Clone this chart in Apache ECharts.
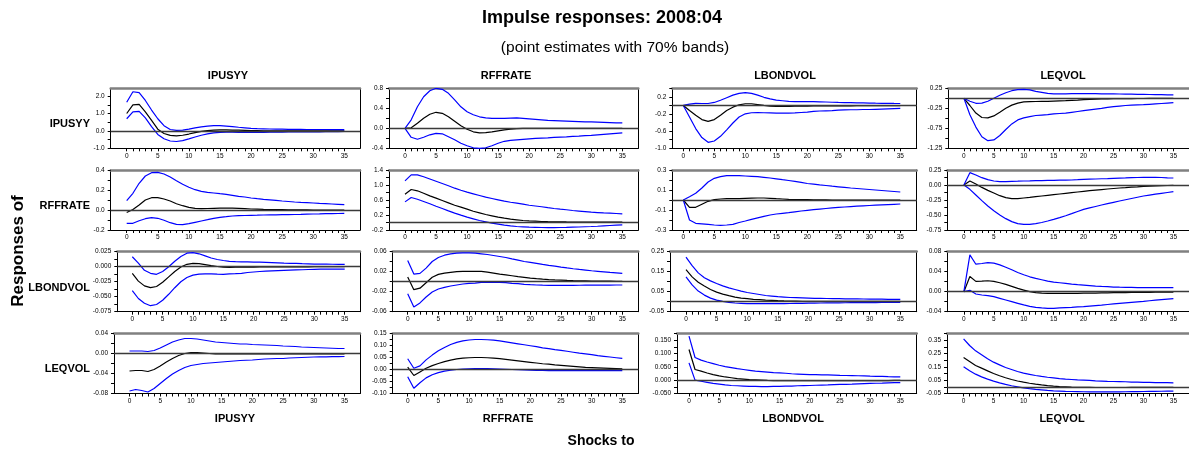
<!DOCTYPE html>
<html><head><meta charset="utf-8">
<script src="https://cdn.jsdelivr.net/npm/echarts@6.0.0/dist/echarts.min.js"></script>
<style>html,body{margin:0;padding:0;background:#fff}#c{width:1189px;height:452px}</style>
</head><body><div id="c"></div><script>
const VARS = ['IPUSYY', 'RFFRATE', 'LBONDVOL', 'LEQVOL'];
const HORIZON = [0,1,2,3,4,5,6,7,8,9,10,11,12,13,14,15,16,17,18,19,20,21,22,23,24,25,26,27,28,29,30,31,32,33,34,35];
const X_LABELS = [0,5,10,15,20,25,30,35];

// ---- Responses of IPUSYY ----
const IPUSYY_IPUSYY_MID = [1.00,1.50,1.52,1.10,0.60,0.10,-0.15,-0.26,-0.29,-0.25,-0.18,-0.10,
 -0.03,0.02,0.05,0.06,0.06,0.05,0.04,0.03,0.02,0.015,0.01,0.008,
 0.006,0.005,0.005,0.004,0.004,0.004,0.003,0.003,0.003,0.003,0.002,0.002];
const IPUSYY_IPUSYY_HI = [1.65,2.25,2.20,1.75,1.20,0.70,0.30,0.08,0.03,0.05,0.10,0.17,
 0.23,0.27,0.30,0.30,0.28,0.25,0.21,0.18,0.15,0.13,0.12,0.11,
 0.10,0.10,0.09,0.09,0.09,0.08,0.08,0.08,0.08,0.07,0.07,0.07];
const IPUSYY_IPUSYY_LO = [0.70,1.10,1.12,0.75,0.25,-0.20,-0.45,-0.58,-0.61,-0.56,-0.46,-0.35,
 -0.25,-0.17,-0.11,-0.08,-0.07,-0.07,-0.08,-0.08,-0.08,-0.08,-0.08,-0.07,
 -0.07,-0.07,-0.06,-0.06,-0.06,-0.05,-0.05,-0.05,-0.04,-0.04,-0.04,-0.03];

const IPUSYY_RFFRATE_MID = [0.00,0.01,0.10,0.20,0.28,0.32,0.30,0.23,0.14,0.05,-0.02,-0.07,
 -0.09,-0.085,-0.07,-0.05,-0.03,-0.015,-0.005,0.00,0.00,0.00,0.00,0.00,
 0.00,0.00,0.00,0.00,0.00,0.00,0.00,0.00,0.00,0.00,0.00,0.00];
const IPUSYY_RFFRATE_HI = [0.00,0.17,0.43,0.63,0.75,0.80,0.78,0.70,0.57,0.43,0.33,0.27,
 0.23,0.21,0.20,0.20,0.20,0.205,0.21,0.20,0.19,0.18,0.17,0.16,
 0.155,0.15,0.145,0.14,0.135,0.13,0.13,0.125,0.12,0.115,0.11,0.11];
const IPUSYY_RFFRATE_LO = [0.00,-0.18,-0.22,-0.18,-0.13,-0.10,-0.11,-0.17,-0.23,-0.30,-0.35,-0.39,
 -0.40,-0.39,-0.35,-0.30,-0.26,-0.24,-0.23,-0.22,-0.21,-0.20,-0.195,-0.19,
 -0.18,-0.175,-0.17,-0.16,-0.155,-0.145,-0.14,-0.13,-0.12,-0.11,-0.10,-0.09];

const IPUSYY_LBONDVOL_MID = [0.00,-0.12,-0.23,-0.33,-0.37,-0.33,-0.23,-0.12,-0.04,0.015,0.04,0.04,
 0.02,0.00,-0.015,-0.02,-0.02,-0.02,-0.015,-0.015,-0.015,-0.01,-0.01,-0.01,
 -0.01,-0.01,-0.008,-0.008,-0.007,-0.006,-0.005,-0.005,-0.004,-0.004,-0.003,-0.003];
const IPUSYY_LBONDVOL_HI = [0.00,0.03,0.05,0.045,0.045,0.07,0.12,0.18,0.24,0.28,0.30,0.28,
 0.24,0.19,0.155,0.125,0.11,0.095,0.09,0.09,0.09,0.09,0.085,0.08,
 0.075,0.07,0.068,0.065,0.062,0.06,0.055,0.052,0.05,0.048,0.046,0.045];
const IPUSYY_LBONDVOL_LO = [0.00,-0.27,-0.54,-0.75,-0.86,-0.83,-0.72,-0.57,-0.41,-0.27,-0.195,-0.17,
 -0.165,-0.17,-0.175,-0.18,-0.18,-0.18,-0.175,-0.165,-0.155,-0.14,-0.13,-0.125,
 -0.12,-0.11,-0.105,-0.10,-0.10,-0.095,-0.095,-0.09,-0.085,-0.08,-0.075,-0.07];

const IPUSYY_LEQVOL_MID = [0.00,-0.18,-0.37,-0.48,-0.49,-0.44,-0.35,-0.25,-0.17,-0.12,-0.09,-0.085,
 -0.08,-0.075,-0.075,-0.07,-0.065,-0.06,-0.05,-0.045,-0.035,-0.03,-0.02,-0.018,
 -0.015,-0.01,-0.01,-0.008,-0.006,-0.005,-0.005,-0.004,-0.003,-0.003,-0.002,-0.002];
const IPUSYY_LEQVOL_HI = [0.00,-0.075,-0.125,-0.12,-0.075,0.00,0.075,0.14,0.19,0.215,0.225,0.21,
 0.175,0.15,0.125,0.11,0.11,0.112,0.115,0.115,0.115,0.115,0.115,0.112,
 0.11,0.11,0.108,0.105,0.103,0.10,0.10,0.095,0.092,0.09,0.088,0.085];
const IPUSYY_LEQVOL_LO = [0.00,-0.41,-0.72,-0.96,-1.06,-1.04,-0.93,-0.78,-0.64,-0.54,-0.49,-0.46,
 -0.43,-0.42,-0.41,-0.39,-0.38,-0.37,-0.35,-0.33,-0.31,-0.29,-0.27,-0.25,
 -0.225,-0.21,-0.195,-0.18,-0.17,-0.165,-0.16,-0.15,-0.14,-0.13,-0.12,-0.11];

// ---- Responses of RFFRATE ----
const RFFRATE_IPUSYY_MID = [-0.025,0.005,0.05,0.10,0.123,0.123,0.11,0.09,0.063,0.043,0.027,0.017,
 0.013,0.015,0.017,0.019,0.02,0.019,0.017,0.014,0.01,0.008,0.006,0.005,
 0.004,0.003,0.002,0.002,0.001,0.001,0.00,0.00,0.00,0.00,0.00,0.00];
const RFFRATE_IPUSYY_HI = [0.093,0.167,0.267,0.34,0.373,0.377,0.36,0.33,0.293,0.257,0.227,0.203,
 0.187,0.177,0.17,0.163,0.157,0.147,0.137,0.13,0.12,0.113,0.107,0.102,
 0.097,0.09,0.085,0.08,0.076,0.073,0.07,0.066,0.063,0.06,0.057,0.053];
const RFFRATE_IPUSYY_LO = [-0.133,-0.133,-0.107,-0.087,-0.077,-0.083,-0.103,-0.127,-0.143,-0.147,-0.137,-0.123,
 -0.11,-0.097,-0.083,-0.073,-0.067,-0.06,-0.057,-0.055,-0.053,-0.052,-0.05,-0.049,
 -0.048,-0.047,-0.046,-0.045,-0.044,-0.042,-0.04,-0.039,-0.037,-0.036,-0.035,-0.033];

const RFFRATE_RFFRATE_MID = [0.755,0.88,0.845,0.78,0.71,0.65,0.587,0.524,0.46,0.41,0.355,0.30,
 0.258,0.213,0.178,0.142,0.115,0.089,0.071,0.053,0.044,0.036,0.027,0.022,
 0.018,0.018,0.015,0.013,0.011,0.01,0.009,0.009,0.009,0.009,0.009,0.009];
const RFFRATE_RFFRATE_HI = [1.11,1.27,1.27,1.22,1.16,1.10,1.04,0.98,0.915,0.86,0.81,0.765,
 0.72,0.675,0.64,0.605,0.57,0.54,0.515,0.49,0.46,0.44,0.42,0.395,
 0.373,0.355,0.34,0.32,0.305,0.29,0.275,0.265,0.255,0.25,0.24,0.23];
const RFFRATE_RFFRATE_LO = [0.55,0.667,0.62,0.56,0.50,0.435,0.373,0.31,0.25,0.195,0.142,0.098,
 0.053,0.018,-0.018,-0.044,-0.07,-0.089,-0.107,-0.115,-0.124,-0.128,-0.133,-0.135,
 -0.135,-0.133,-0.13,-0.125,-0.12,-0.113,-0.107,-0.10,-0.09,-0.08,-0.07,-0.062];

const RFFRATE_LBONDVOL_MID = [0.00,-0.073,-0.073,-0.043,-0.013,0.003,0.01,0.013,0.013,0.013,0.016,0.018,
 0.02,0.02,0.017,0.013,0.01,0.007,0.005,0.004,0.003,0.002,0.001,0.001,
 0.00,0.00,0.00,0.00,0.00,0.00,0.00,0.00,0.00,0.00,0.00,0.00];
const RFFRATE_LBONDVOL_HI = [0.00,0.033,0.067,0.12,0.18,0.217,0.233,0.243,0.243,0.243,0.24,0.237,
 0.233,0.227,0.22,0.212,0.203,0.195,0.186,0.176,0.165,0.158,0.151,0.145,
 0.138,0.132,0.126,0.12,0.115,0.11,0.105,0.10,0.095,0.09,0.085,0.08];
const RFFRATE_LBONDVOL_LO = [0.00,-0.20,-0.233,-0.238,-0.243,-0.25,-0.253,-0.25,-0.243,-0.225,-0.21,-0.193,
 -0.178,-0.163,-0.15,-0.14,-0.133,-0.126,-0.118,-0.11,-0.103,-0.097,-0.091,-0.085,
 -0.079,-0.074,-0.07,-0.066,-0.062,-0.058,-0.055,-0.052,-0.049,-0.046,-0.043,-0.04];

const RFFRATE_LEQVOL_MID = [0.00,0.067,0.017,-0.04,-0.09,-0.133,-0.178,-0.21,-0.228,-0.228,-0.217,-0.206,
 -0.194,-0.183,-0.172,-0.161,-0.15,-0.139,-0.128,-0.117,-0.106,-0.095,-0.085,-0.076,
 -0.067,-0.058,-0.05,-0.044,-0.037,-0.03,-0.022,-0.018,-0.014,-0.011,-0.008,-0.006];
const RFFRATE_LEQVOL_HI = [0.00,0.206,0.167,0.122,0.089,0.067,0.056,0.056,0.061,0.063,0.067,0.069,
 0.072,0.074,0.076,0.078,0.08,0.081,0.083,0.088,0.094,0.097,0.10,0.104,
 0.107,0.111,0.115,0.118,0.122,0.125,0.128,0.128,0.127,0.125,0.12,0.117];
const RFFRATE_LEQVOL_LO = [0.00,-0.072,-0.167,-0.261,-0.35,-0.428,-0.50,-0.561,-0.611,-0.644,-0.656,-0.655,
 -0.645,-0.625,-0.60,-0.572,-0.543,-0.512,-0.478,-0.442,-0.406,-0.382,-0.358,-0.334,
 -0.311,-0.289,-0.267,-0.246,-0.225,-0.204,-0.183,-0.168,-0.153,-0.139,-0.125,-0.111];

// ---- Responses of LBONDVOL ----
const LBONDVOL_IPUSYY_MID = [-0.011,-0.024,-0.032,-0.035,-0.033,-0.026,-0.017,-0.008,-0.0005,0.004,0.0055,0.005,
 0.0035,0.0018,0.0003,-0.0008,-0.001,-0.0009,-0.0008,-0.0007,-0.0006,-0.0005,-0.0004,-0.0004,
 -0.0003,-0.0003,-0.0003,-0.0002,-0.0002,-0.0002,-0.0001,-0.0001,-0.0001,0.0,0.0,0.0];
const LBONDVOL_IPUSYY_HI = [0.0166,0.006,-0.006,-0.011,-0.0127,-0.008,0.0,0.009,0.017,0.0225,0.0235,0.0215,
 0.018,0.0145,0.012,0.0103,0.009,0.0085,0.0082,0.008,0.0077,0.0075,0.0072,0.0068,
 0.0064,0.006,0.0057,0.0054,0.005,0.0047,0.0044,0.0043,0.0042,0.0041,0.004,0.0039];
const LBONDVOL_IPUSYY_LO = [-0.04,-0.053,-0.061,-0.065,-0.063,-0.056,-0.046,-0.035,-0.025,-0.018,-0.014,-0.0125,
 -0.012,-0.012,-0.0125,-0.0127,-0.012,-0.0116,-0.011,-0.0097,-0.0088,-0.008,-0.0074,-0.0068,
 -0.0064,-0.006,-0.0057,-0.0054,-0.0051,-0.0047,-0.0044,-0.0042,-0.0041,-0.004,-0.004,-0.0039];

const LBONDVOL_RFFRATE_MID = [0.0093,-0.016,-0.013,-0.002,0.009,0.0146,0.0172,0.0186,0.02,0.0206,0.0206,0.0206,
 0.0206,0.019,0.0172,0.015,0.0135,0.0119,0.0103,0.0088,0.0073,0.006,0.005,0.0042,
 0.0035,0.003,0.0025,0.0021,0.0018,0.0016,0.0014,0.0012,0.0011,0.001,0.0008,0.0007];
const LBONDVOL_RFFRATE_HI = [0.0424,0.0152,0.0166,0.0272,0.0404,0.0484,0.053,0.0557,0.057,0.0577,0.0577,0.057,
 0.0557,0.0544,0.0524,0.0504,0.0484,0.0457,0.0431,0.0404,0.0385,0.0365,0.0345,0.0328,
 0.0312,0.0292,0.0275,0.0259,0.0245,0.0232,0.0219,0.0208,0.0197,0.0186,0.0176,0.0166];
const LBONDVOL_RFFRATE_LO = [-0.0239,-0.0504,-0.0424,-0.0305,-0.0206,-0.0146,-0.0113,-0.0086,-0.0066,-0.0046,-0.0033,-0.0027,
 -0.0015,-0.0013,-0.0013,-0.0015,-0.002,-0.0033,-0.004,-0.0053,-0.006,-0.0066,-0.007,-0.0073,
 -0.0073,-0.0073,-0.0073,-0.0072,-0.0071,-0.007,-0.0069,-0.0068,-0.0068,-0.0067,-0.0066,-0.0066];

const LBONDVOL_LBONDVOL_MID = [0.16,0.124,0.0975,0.078,0.061,0.048,0.038,0.03,0.023,0.018,0.015,0.0116,
 0.01,0.008,0.0066,0.005,0.004,0.0033,0.0028,0.0023,0.002,0.0019,0.0018,0.0018,
 0.0017,0.0017,0.0017,0.0017,0.0016,0.0016,0.0016,0.0016,0.0015,0.0015,0.0015,0.0015];
const LBONDVOL_LBONDVOL_HI = [0.223,0.18,0.144,0.12,0.104,0.091,0.079,0.069,0.061,0.053,0.046,0.041,
 0.036,0.031,0.028,0.025,0.023,0.021,0.02,0.019,0.018,0.017,0.0165,0.016,
 0.0155,0.015,0.0145,0.014,0.0138,0.0135,0.013,0.0127,0.0124,0.012,0.0118,0.0116];
const LBONDVOL_LBONDVOL_LO = [0.124,0.084,0.053,0.033,0.018,0.008,0.0017,-0.0033,-0.0066,-0.008,-0.01,-0.01,
 -0.01,-0.01,-0.01,-0.01,-0.0095,-0.009,-0.0085,-0.008,-0.0075,-0.007,-0.0066,-0.006,
 -0.0058,-0.0055,-0.0052,-0.005,-0.0048,-0.0046,-0.0044,-0.0042,-0.004,-0.0038,-0.0035,-0.0033];

const LBONDVOL_LEQVOL_MID = [0.0,0.0305,0.0206,0.0212,0.0219,0.0206,0.0179,0.0146,0.0106,0.0066,0.0033,0.0,
 -0.002,-0.003,-0.0033,-0.0033,-0.0033,-0.0033,-0.0033,-0.0032,-0.003,-0.0028,-0.0027,-0.0025,
 -0.0023,-0.002,-0.0019,-0.0017,-0.0016,-0.0014,-0.0013,-0.0012,-0.001,-0.0009,-0.0008,-0.0007];
const LBONDVOL_LEQVOL_HI = [0.0,0.0736,0.055,0.0564,0.0583,0.057,0.0537,0.049,0.0438,0.0385,0.0338,0.0298,
 0.0265,0.0239,0.0212,0.0192,0.0179,0.0166,0.0152,0.0142,0.0133,0.0123,0.0113,0.0106,
 0.01,0.0093,0.009,0.0088,0.0086,0.0083,0.008,0.008,0.008,0.008,0.008,0.008];
const LBONDVOL_LEQVOL_LO = [0.0,0.0027,-0.0046,-0.0066,-0.008,-0.01,-0.0133,-0.0166,-0.0199,-0.0232,-0.0265,-0.0292,
 -0.0312,-0.0325,-0.0332,-0.0332,-0.0325,-0.0318,-0.0312,-0.0305,-0.0298,-0.0288,-0.0278,-0.0268,
 -0.0256,-0.0245,-0.0234,-0.0223,-0.0212,-0.0202,-0.0192,-0.0181,-0.017,-0.0159,-0.0149,-0.0139];

// ---- Responses of LEQVOL ----
const LEQVOL_IPUSYY_MID = [-0.035,-0.034,-0.034,-0.036,-0.032,-0.025,-0.017,-0.01,-0.004,0.0,0.002,0.002,
 0.001,0.0,-0.001,-0.001,-0.001,-0.001,-0.001,-0.001,-0.001,-0.001,-0.001,-0.001,
 -0.001,-0.001,-0.001,-0.001,-0.001,-0.001,-0.001,-0.001,-0.001,-0.001,-0.001,-0.001];
const LEQVOL_IPUSYY_HI = [0.005,0.005,0.005,0.004,0.006,0.011,0.017,0.023,0.027,0.03,0.03,0.029,
 0.027,0.025,0.023,0.022,0.021,0.02,0.019,0.019,0.018,0.0175,0.017,0.0165,
 0.016,0.015,0.0145,0.014,0.013,0.0125,0.012,0.0115,0.011,0.0105,0.01,0.01];
const LEQVOL_IPUSYY_LO = [-0.075,-0.072,-0.074,-0.077,-0.07,-0.06,-0.05,-0.041,-0.034,-0.028,-0.024,-0.022,
 -0.02,-0.019,-0.018,-0.017,-0.016,-0.015,-0.014,-0.0135,-0.013,-0.012,-0.011,-0.0105,
 -0.01,-0.01,-0.009,-0.0085,-0.008,-0.0075,-0.007,-0.0068,-0.0066,-0.0064,-0.0062,-0.006];

const LEQVOL_RFFRATE_MID = [0.01,-0.025,-0.01,0.005,0.016,0.025,0.033,0.039,0.044,0.047,0.049,0.05,
 0.05,0.049,0.047,0.045,0.042,0.039,0.036,0.033,0.03,0.027,0.024,0.022,
 0.019,0.017,0.015,0.013,0.011,0.009,0.008,0.007,0.006,0.005,0.004,0.003];
const LEQVOL_RFFRATE_HI = [0.045,0.005,0.015,0.04,0.06,0.078,0.092,0.104,0.113,0.119,0.123,0.125,
 0.125,0.124,0.122,0.119,0.115,0.111,0.107,0.103,0.099,0.095,0.09,0.087,
 0.083,0.08,0.076,0.072,0.068,0.065,0.062,0.058,0.055,0.052,0.049,0.046];
const LEQVOL_RFFRATE_LO = [-0.03,-0.078,-0.055,-0.035,-0.022,-0.013,-0.007,-0.003,0.0,0.002,0.003,0.0035,
 0.004,0.0035,0.003,0.002,0.001,0.0,-0.001,-0.002,-0.003,-0.0035,-0.004,-0.0045,
 -0.005,-0.005,-0.005,-0.005,-0.005,-0.005,-0.005,-0.005,-0.005,-0.005,-0.005,-0.005];

const LEQVOL_LBONDVOL_MID = [0.115,0.04,0.034,0.027,0.021,0.016,0.012,0.009,0.006,0.004,0.002,0.001,
 0.0,-0.001,-0.0015,-0.002,-0.002,-0.002,-0.002,-0.002,-0.002,-0.002,-0.002,-0.002,
 -0.002,-0.002,-0.002,-0.002,-0.002,-0.002,-0.002,-0.0015,-0.0015,-0.0015,-0.001,-0.001];
const LEQVOL_LBONDVOL_HI = [0.165,0.085,0.075,0.068,0.062,0.056,0.051,0.047,0.043,0.04,0.037,0.034,
 0.032,0.030,0.028,0.027,0.026,0.024,0.023,0.022,0.021,0.0205,0.02,0.0195,
 0.019,0.018,0.0175,0.017,0.0165,0.016,0.015,0.0145,0.014,0.013,0.0125,0.012];
const LEQVOL_LBONDVOL_LO = [0.065,0.0,-0.004,-0.008,-0.012,-0.015,-0.018,-0.02,-0.021,-0.022,-0.023,-0.023,
 -0.024,-0.024,-0.0235,-0.023,-0.0225,-0.022,-0.021,-0.0205,-0.02,-0.019,-0.0185,-0.018,
 -0.017,-0.016,-0.0155,-0.015,-0.014,-0.013,-0.012,-0.0115,-0.011,-0.01,-0.0095,-0.009];

const LEQVOL_LEQVOL_MID = [0.22,0.19,0.16,0.14,0.12,0.10,0.083,0.068,0.055,0.044,0.035,0.027,
 0.02,0.014,0.009,0.005,0.002,0.0,-0.002,-0.003,-0.004,-0.0045,-0.005,-0.005,
 -0.005,-0.005,-0.005,-0.005,-0.0045,-0.0045,-0.004,-0.004,-0.0035,-0.0035,-0.003,-0.003];
const LEQVOL_LEQVOL_HI = [0.36,0.31,0.27,0.24,0.21,0.185,0.165,0.145,0.13,0.115,0.103,0.094,
 0.085,0.078,0.072,0.067,0.062,0.058,0.055,0.052,0.05,0.048,0.045,0.043,
 0.041,0.04,0.039,0.038,0.036,0.035,0.034,0.033,0.032,0.031,0.031,0.03];
const LEQVOL_LEQVOL_LO = [0.15,0.12,0.095,0.075,0.058,0.043,0.03,0.018,0.008,0.0,-0.008,-0.014,
 -0.019,-0.023,-0.027,-0.03,-0.032,-0.034,-0.035,-0.036,-0.037,-0.0375,-0.038,-0.038,
 -0.038,-0.038,-0.0375,-0.037,-0.0365,-0.036,-0.035,-0.0345,-0.034,-0.033,-0.0325,-0.032];

// panel lookup: rows = responses, columns = shocks
const SERIES = {
  IPUSYY:   { IPUSYY: [IPUSYY_IPUSYY_LO, IPUSYY_IPUSYY_MID, IPUSYY_IPUSYY_HI], RFFRATE: [IPUSYY_RFFRATE_LO, IPUSYY_RFFRATE_MID, IPUSYY_RFFRATE_HI], LBONDVOL: [IPUSYY_LBONDVOL_LO, IPUSYY_LBONDVOL_MID, IPUSYY_LBONDVOL_HI], LEQVOL: [IPUSYY_LEQVOL_LO, IPUSYY_LEQVOL_MID, IPUSYY_LEQVOL_HI] },
  RFFRATE:  { IPUSYY: [RFFRATE_IPUSYY_LO, RFFRATE_IPUSYY_MID, RFFRATE_IPUSYY_HI], RFFRATE: [RFFRATE_RFFRATE_LO, RFFRATE_RFFRATE_MID, RFFRATE_RFFRATE_HI], LBONDVOL: [RFFRATE_LBONDVOL_LO, RFFRATE_LBONDVOL_MID, RFFRATE_LBONDVOL_HI], LEQVOL: [RFFRATE_LEQVOL_LO, RFFRATE_LEQVOL_MID, RFFRATE_LEQVOL_HI] },
  LBONDVOL: { IPUSYY: [LBONDVOL_IPUSYY_LO, LBONDVOL_IPUSYY_MID, LBONDVOL_IPUSYY_HI], RFFRATE: [LBONDVOL_RFFRATE_LO, LBONDVOL_RFFRATE_MID, LBONDVOL_RFFRATE_HI], LBONDVOL: [LBONDVOL_LBONDVOL_LO, LBONDVOL_LBONDVOL_MID, LBONDVOL_LBONDVOL_HI], LEQVOL: [LBONDVOL_LEQVOL_LO, LBONDVOL_LEQVOL_MID, LBONDVOL_LEQVOL_HI] },
  LEQVOL:   { IPUSYY: [LEQVOL_IPUSYY_LO, LEQVOL_IPUSYY_MID, LEQVOL_IPUSYY_HI], RFFRATE: [LEQVOL_RFFRATE_LO, LEQVOL_RFFRATE_MID, LEQVOL_RFFRATE_HI], LBONDVOL: [LEQVOL_LBONDVOL_LO, LEQVOL_LBONDVOL_MID, LEQVOL_LBONDVOL_HI], LEQVOL: [LEQVOL_LEQVOL_LO, LEQVOL_LEQVOL_MID, LEQVOL_LEQVOL_HI] }
};

// y-axis specs per panel: [min, max, tickStep, labelValues, decimals]
const Y_SPEC = [
  [[-1.0,2.45,0.5,[-1,0,1,2],1], [-0.4,0.8,0.2,[-0.4,0,0.4,0.8],1], [-1.0,0.4,0.2,[-1.0,-0.6,-0.2,0.2],1], [-1.25,0.25,0.25,[-1.25,-0.75,-0.25,0.25],2]],
  [[-0.2,0.4,0.1,[-0.2,0,0.2,0.4],1], [-0.2,1.4,0.2,[-0.2,0.2,0.6,1.0,1.4],1], [-0.3,0.3,0.1,[-0.3,-0.1,0.1,0.3],1], [-0.75,0.25,0.125,[-0.75,-0.5,-0.25,0,0.25],2]],
  [[-0.075,0.025,0.0125,[-0.075,-0.05,-0.025,0,0.025],3], [-0.06,0.06,0.02,[-0.06,-0.02,0.02,0.06],2], [-0.05,0.25,0.05,[-0.05,0.05,0.15,0.25],2], [-0.04,0.08,0.02,[-0.04,0,0.04,0.08],2]],
  [[-0.08,0.04,0.02,[-0.08,-0.04,0,0.04],2], [-0.10,0.15,0.025,[-0.10,-0.05,0,0.05,0.10,0.15],2], [-0.05,0.175,0.025,[-0.05,0,0.05,0.1,0.15],3], [-0.05,0.40,0.05,[-0.05,0.05,0.15,0.25,0.35],2]]
];

// layout (pixels): per row top, per panel [frameLeft, x0, x35, frameRight]
const ROW_TOP = [88.3, 170, 251.7, 333.5];
const ROW_H = 60;
const FRAME = [
  [[110.7,126.7,344.3,360],[389,405,622.3,638.3],[672.3,683.3,900.3,916.7],[948.3,964.3,1179,1195]],
  [[110.7,126.7,344.3,360],[389,405,622.3,638.3],[672.3,683.3,900.3,916.7],[947.3,964.3,1179,1195]],
  [[117.3,132.3,344.7,360],[392.7,407.7,622.3,638.3],[670,686,900.3,916.7],[947.3,964.3,1179,1195]],
  [[114,129.5,344.5,360],[392.7,407.7,622.3,638.3],[677,689,900.3,916.7],[947,964,1179,1195]]
];

const FONT = '"Liberation Sans", Arial, Helvetica, sans-serif';
const BLUE = '#0000ff';

function fmt(v, d) {
  const s = v.toFixed(d);
  return /^-0(\.0+)?$/.test(s) ? s.slice(1) : s;
}
function steps(min, max, step) {
  const out = [];
  for (let k = 0; ; k++) {
    const v = Math.round((min + k * step) * 1e9) / 1e9;
    if (v > max + 1e-9) break;
    out.push(v);
  }
  return out;
}

const grids = [], xAxes = [], yAxes = [], series = [];
let g = 0;
for (let r = 0; r < 4; r++) {
  for (let c = 0; c < 4; c++) {
    const [L, X0, X35, R] = FRAME[r][c];
    const ppu = (X35 - X0) / 35;
    const xmin = -(X0 - L) / ppu;
    const xmax = 35 + (R - X35) / ppu;
    const [ymin, ymax, ystep, ylabels, dec] = Y_SPEC[r][c];
    grids.push({ left: L, top: ROW_TOP[r], width: R - L, height: ROW_H, containLabel: false });
    xAxes.push({
      gridIndex: g, type: 'value', min: xmin, max: xmax, position: 'bottom',
      axisLine: { show: true, onZero: false, lineStyle: { color: '#000', width: 1 } },
      axisTick: { show: true, customValues: HORIZON, length: 3, inside: false, lineStyle: { color: '#000', width: 1 } },
      axisLabel: { show: true, customValues: X_LABELS, fontSize: 6.5, margin: 4, color: '#000', fontFamily: FONT },
      splitLine: { show: false }
    });
    xAxes.push({
      gridIndex: g, type: 'value', min: xmin, max: xmax, position: 'top',
      axisLine: { show: true, onZero: false, lineStyle: { color: '#808080', width: 2.5 } },
      axisTick: { show: false }, axisLabel: { show: false }, splitLine: { show: false }
    });
    yAxes.push({
      gridIndex: g, type: 'value', min: ymin, max: ymax, position: 'left',
      axisLine: { show: true, onZero: false, lineStyle: { color: '#000', width: 1 } },
      axisTick: { show: true, customValues: steps(ymin, ymax, ystep), length: 3, lineStyle: { color: '#000', width: 1 } },
      axisLabel: { show: true, customValues: ylabels, formatter: v => fmt(v, dec), fontSize: 6.5, margin: 6, color: '#000', fontFamily: FONT },
      splitLine: { show: false }
    });
    yAxes.push({
      gridIndex: g, type: 'value', min: ymin, max: ymax, position: 'right',
      axisLine: { show: true, onZero: false, lineStyle: { color: '#000', width: 1 } },
      axisTick: { show: false }, axisLabel: { show: false }, splitLine: { show: false }
    });
    const [lo, mid, hi] = SERIES[VARS[r]][VARS[c]];
    const base = { type: 'line', xAxisIndex: 2 * g, yAxisIndex: 2 * g, showSymbol: false, symbol: 'none', smooth: false, silent: true, animation: false };
    series.push(Object.assign({}, base, {
      data: HORIZON.map((h, i) => [h, mid[i]]),
      lineStyle: { color: '#000', width: 1.2 }, z: 3,
      markLine: { silent: true, symbol: ['none', 'none'], label: { show: false }, animation: false,
        lineStyle: { color: '#3a3a3a', width: 1.3, type: 'solid' }, data: [{ yAxis: 0 }] }
    }));
    series.push(Object.assign({}, base, { data: HORIZON.map((h, i) => [h, hi[i]]), lineStyle: { color: BLUE, width: 1.2 }, z: 4 }));
    series.push(Object.assign({}, base, { data: HORIZON.map((h, i) => [h, lo[i]]), lineStyle: { color: BLUE, width: 1.2 }, z: 4 }));
    g++;
  }
}

function txt(text, x, y, font, align, rotation) {
  return { type: 'text', x: x, y: y, rotation: rotation || 0, silent: true,
    style: { text: text, x: 0, y: 0, font: font, fill: '#000', align: align || 'center', verticalAlign: 'middle', textAlign: align || 'center', textVerticalAlign: 'middle' } };
}
const COL_TOP_X = [228, 506, 785, 1063];
const COL_BOT_X = [235, 508, 793, 1062];
const ROW_LABEL_Y = [124, 206, 288, 369];
const graphics = [
  txt('Impulse responses: 2008:04', 602, 18, 'bold 18px ' + FONT),
  txt('(point estimates with 70% bands)', 615, 48, '15.5px ' + FONT),
  txt('Shocks to', 601, 441, 'bold 14px ' + FONT),
  txt('Responses of', 18, 251, 'bold 17px ' + FONT, 'center', Math.PI / 2)
];
VARS.forEach((v, i) => {
  graphics.push(txt(v, COL_TOP_X[i], 76, 'bold 11px ' + FONT));
  graphics.push(txt(v, COL_BOT_X[i], 419, 'bold 11px ' + FONT));
  graphics.push(txt(v, 90, ROW_LABEL_Y[i], 'bold 11px ' + FONT, 'right'));
});

const chart = echarts.init(document.getElementById('c'), null, { renderer: 'canvas' });
chart.setOption({
  animation: false,
  backgroundColor: '#fff',
  grid: grids, xAxis: xAxes, yAxis: yAxes, series: series,
  graphic: { elements: graphics }
});
</script></body></html>
